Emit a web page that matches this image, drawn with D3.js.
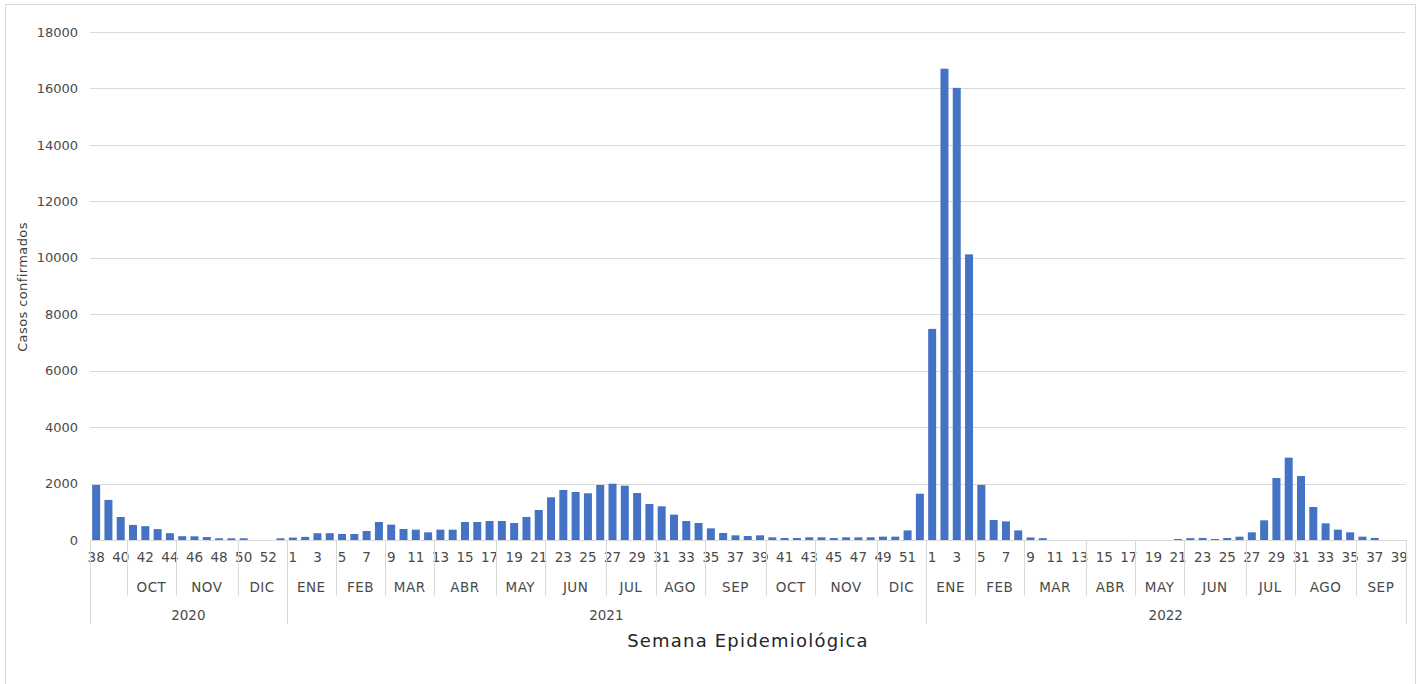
<!DOCTYPE html>
<html>
<head>
<meta charset="utf-8">
<script src="https://cdn.jsdelivr.net/npm/d3@7"></script>
<style>
  html, body { margin: 0; padding: 0; background: #fff; }
  svg { display: block; }
  text { font-family: "DejaVu Sans", sans-serif; }
</style>
</head>
<body>
<svg id="chart" width="1423" height="684"></svg>
<script>
// ---- data ----
const years = ["2020", "2021", "2022"];
const weeks2020 = [38,39,40,41,42,43,44,45,46,47,48,49,50,51,52,53];
const values2020 = [1950,1420,815,535,490,385,240,135,130,105,60,60,60,0,0,60];
const weeks2021 = [1,2,3,4,5,6,7,8,9,10,11,12,13,14,15,16,17,18,19,20,21,22,23,24,25,26,
                   27,28,29,30,31,32,33,34,35,36,37,38,39,40,41,42,43,44,45,46,47,48,49,50,51,52];
const values2021 = [85,110,240,240,213,213,319,638,543,390,366,272,366,366,638,638,673,673,602,815,1063,1513,1772,1701,1654,1949,
                    1995,1925,1665,1276,1194,897,673,602,413,248,165,142,165,95,71,71,95,95,71,95,95,95,118,118,340,1640];
const weeks2022 = [1,2,3,4,5,6,7,8,9,10,11,12,13,14,15,16,17,18,19,20,21,22,23,24,25,26,27,28,29,30,31,32,33,34,35,36,37,38,39];
const values2022 = [7480,16700,16020,10120,1950,710,660,340,90,65,0,0,0,0,0,0,0,0,0,0,35,65,71,35,71,118,272,697,2197,2917,2268,1170,590,366,272,118,75,0,0];
// week labels shown on axis (every other week)
const labels2020 = [38,40,42,44,46,48,50,52];
const labels2021 = [1,3,5,7,9,11,13,15,17,19,21,23,25,27,29,31,33,35,37,39,41,43,45,47,49,51];
const labels2022 = [1,3,5,7,9,11,13,15,17,19,21,23,25,27,29,31,33,35,37,39];
// month groups: name and last week of each group
const months2020 = ["", "OCT", "NOV", "DIC"];
const monthEnds2020 = [40, 44, 49, 53];
const months2021 = ["ENE","FEB","MAR","ABR","MAY","JUN","JUL","AGO","SEP","OCT","NOV","DIC"];
const monthEnds2021 = [4, 8, 12, 17, 21, 26, 30, 34, 39, 43, 48, 52];
const months2022 = ["ENE","FEB","MAR","ABR","MAY","JUN","JUL","AGO","SEP"];
const monthEnds2022 = [4, 8, 13, 17, 21, 26, 30, 35, 39];
const yTicks = [0,2000,4000,6000,8000,10000,12000,14000,16000,18000];

// ---- build table ----
const yearData = [
  {year: years[0], weeks: weeks2020, values: values2020, labels: labels2020, months: months2020, ends: monthEnds2020},
  {year: years[1], weeks: weeks2021, values: values2021, labels: labels2021, months: months2021, ends: monthEnds2021},
  {year: years[2], weeks: weeks2022, values: values2022, labels: labels2022, months: months2022, ends: monthEnds2022}
];
const rows = [];
yearData.forEach(yd => yd.weeks.forEach((w, i) => rows.push({key: yd.year + "-" + w, year: yd.year, week: w, value: yd.values[i]})));

const svg = d3.select("#chart");
const plotLeft = 90, plotRight = 1405.5, plotTop = 32, plotBase = 540;
const textColor = "#4a4a4a";

// frame
svg.append("rect").attr("x", 5.5).attr("y", 4.5).attr("width", 1410).attr("height", 700)
  .attr("fill", "none").attr("stroke", "#d9d9d9").attr("stroke-width", 1);

const x = d3.scaleBand().domain(rows.map(d => d.key)).range([plotLeft, plotRight])
  .paddingInner(0.35).paddingOuter(0.175);
const y = d3.scaleLinear().domain([0, 18000]).range([plotBase, plotTop]);

const edge = key => x(key) - x.step() * x.paddingInner() / 2;
const edgeEnd = key => edge(key) + x.step();

// gridlines
svg.append("g").selectAll("line").data(yTicks).join("line")
  .attr("x1", plotLeft).attr("x2", plotRight)
  .attr("y1", d => Math.round(y(d)) + 0.5).attr("y2", d => Math.round(y(d)) + 0.5)
  .attr("stroke", "#d9d9d9").attr("stroke-width", 1);

// y axis labels
const yAxis = d3.axisLeft(y).tickValues(yTicks).tickSize(0).tickPadding(0).tickFormat(d3.format("d"));
const gy = svg.append("g").attr("transform", `translate(78,0)`).call(yAxis);
gy.select(".domain").remove();
gy.selectAll("text").attr("font-size", 13).attr("fill", textColor).attr("font-family", "DejaVu Sans, sans-serif");

// bars
svg.append("g").selectAll("rect").data(rows).join("rect")
  .attr("x", d => x(d.key)).attr("width", x.bandwidth())
  .attr("y", d => y(d.value)).attr("height", d => plotBase - y(d.value))
  .attr("fill", "#4472C4");

// week labels
const xAxis = d3.axisBottom(x)
  .tickValues(yearData.flatMap(yd => yd.labels.map(w => yd.year + "-" + w)))
  .tickSize(0).tickPadding(0).tickFormat(k => k.split("-")[1]);
const gx = svg.append("g").attr("transform", `translate(0,552)`).call(xAxis);
gx.select(".domain").remove();
gx.selectAll("text").attr("font-size", 13.5).attr("fill", textColor).attr("font-family", "DejaVu Sans, sans-serif");

// month groups and dividers
const gm = svg.append("g");
const stroke = "#d9d9d9";
yearData.forEach(yd => {
  let start = yd.weeks[0];
  yd.months.forEach((m, i) => {
    const end = yd.ends[i];
    const x0 = edge(yd.year + "-" + start), x1 = edgeEnd(yd.year + "-" + end);
    gm.append("text").attr("x", (x0 + x1) / 2).attr("y", 592)
      .attr("text-anchor", "middle").attr("font-size", 13.5).attr("letter-spacing", 0.5)
      .attr("fill", textColor).text(m);
    if (i > 0) {
      gm.append("line").attr("x1", Math.round(x0) + 0.5).attr("x2", Math.round(x0) + 0.5)
        .attr("y1", plotBase).attr("y2", 596).attr("stroke", stroke);
    }
    start = end + 1;
  });
  const y0 = edge(yd.year + "-" + yd.weeks[0]);
  const y1 = edgeEnd(yd.year + "-" + yd.weeks[yd.weeks.length - 1]);
  gm.append("text").attr("x", (y0 + y1) / 2).attr("y", 620)
    .attr("text-anchor", "middle").attr("font-size", 13.5).attr("fill", textColor).text(yd.year);
  [y0, y1].forEach(v => gm.append("line").attr("x1", Math.round(v) + 0.5).attr("x2", Math.round(v) + 0.5)
    .attr("y1", plotBase).attr("y2", 624).attr("stroke", stroke));
});

// axis line
svg.append("line").attr("x1", plotLeft).attr("x2", plotRight)
  .attr("y1", Math.round(plotBase) + 0.5).attr("y2", Math.round(plotBase) + 0.5).attr("stroke", "#d9d9d9");

// axis titles
svg.append("text").attr("x", 748).attr("y", 647).attr("text-anchor", "middle")
  .attr("font-size", 18).attr("letter-spacing", 1.2).attr("fill", "#262626").text("Semana Epidemiológica");
svg.append("text").attr("transform", "translate(27,287) rotate(-90)").attr("text-anchor", "middle")
  .attr("font-size", 13).attr("letter-spacing", 0.4).attr("fill", "#404040").text("Casos confirmados");
</script>
</body>
</html>
